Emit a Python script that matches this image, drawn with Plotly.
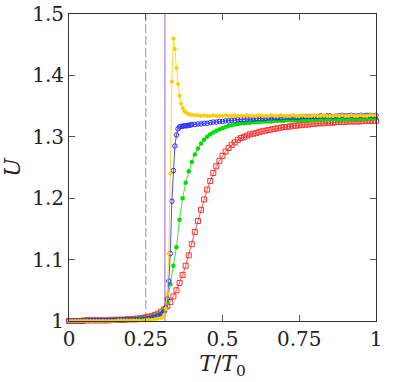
import plotly.graph_objects as go

# ---------------- data ----------------
# Red (open squares)
red_x = [round(i * 0.01, 2) for i in range(0, 101)]
red_y = [1.000, 1.000, 1.000, 1.000, 1.000, 1.001, 1.001, 1.001, 1.001, 1.001, 1.001,
         1.001, 1.001, 1.001, 1.002, 1.002, 1.002, 1.002, 1.002, 1.003, 1.003,
         1.003, 1.004, 1.004, 1.005, 1.006, 1.007, 1.008, 1.010, 1.012, 1.015,
         1.019, 1.024, 1.031, 1.040, 1.050, 1.062, 1.075, 1.090, 1.107, 1.125,
         1.145, 1.163, 1.181, 1.198, 1.214, 1.228, 1.241, 1.252, 1.261, 1.269,
         1.276, 1.282, 1.287, 1.291, 1.295, 1.298, 1.300, 1.302, 1.304, 1.305,
         1.306, 1.308, 1.309, 1.310, 1.311, 1.312, 1.313, 1.314, 1.315, 1.316,
         1.316, 1.317, 1.318, 1.318, 1.319, 1.319, 1.320, 1.320, 1.321, 1.321,
         1.322, 1.322, 1.322, 1.323, 1.323, 1.323, 1.324, 1.324, 1.324, 1.324,
         1.325, 1.325, 1.325, 1.325, 1.325, 1.326, 1.326, 1.326, 1.326, 1.326]

# Green (filled circles)
green_x = [round(i * 0.01, 2) for i in range(0, 101)]
green_y = [1.000, 1.000, 1.000, 1.000, 1.000, 1.001, 1.001, 1.001, 1.001, 1.001, 1.001,
           1.001, 1.001, 1.001, 1.001, 1.002, 1.002, 1.002, 1.002, 1.002, 1.003,
           1.003, 1.003, 1.004, 1.004, 1.005, 1.005, 1.006, 1.008, 1.010, 1.013,
           1.018, 1.030, 1.060, 1.090, 1.120, 1.165, 1.200, 1.225, 1.244, 1.259,
           1.271, 1.281, 1.289, 1.295, 1.300, 1.304, 1.307, 1.310, 1.312, 1.314,
           1.316, 1.318, 1.319, 1.320, 1.321, 1.322, 1.322, 1.323, 1.323, 1.324,
           1.324, 1.324, 1.325, 1.325, 1.325, 1.325, 1.326, 1.326, 1.326, 1.326,
           1.327, 1.327, 1.327, 1.327, 1.327, 1.327, 1.327, 1.327, 1.327, 1.327,
           1.328, 1.328, 1.328, 1.328, 1.328, 1.328, 1.328, 1.328, 1.328, 1.328,
           1.329, 1.329, 1.329, 1.329, 1.329, 1.330, 1.330, 1.330, 1.330, 1.330]

# Blue (open circles)
blue_x = ([round(i * 0.01, 2) for i in range(0, 31)]
          + [0.305, 0.31, 0.315, 0.32, 0.325, 0.33, 0.335, 0.34, 0.345, 0.35,
             0.355, 0.36, 0.365, 0.37, 0.375, 0.38, 0.385, 0.39, 0.395, 0.40]
          + [round(i * 0.01, 2) for i in range(41, 101)])
blue_y = [1.000, 1.000, 1.000, 1.000, 1.000, 1.000, 1.001, 1.001, 1.001, 1.001, 1.001,
          1.001, 1.001, 1.001, 1.001, 1.001, 1.002, 1.002, 1.002, 1.002, 1.002,
          1.002, 1.002, 1.003, 1.003, 1.003, 1.004, 1.005, 1.006, 1.008, 1.010,
          1.012, 1.015, 1.022, 1.036, 1.065, 1.110, 1.195, 1.245, 1.285, 1.303,
          1.313, 1.316, 1.317, 1.317, 1.318, 1.318, 1.318, 1.319, 1.319, 1.320,
          1.320, 1.321, 1.321, 1.322, 1.322, 1.323, 1.324, 1.324, 1.325, 1.325,
          1.326, 1.326, 1.327, 1.327, 1.328, 1.328, 1.328, 1.329, 1.329, 1.329,
          1.330, 1.330, 1.330, 1.330, 1.331, 1.331, 1.331, 1.331, 1.331, 1.332,
          1.332, 1.332, 1.332, 1.332, 1.332, 1.333, 1.333, 1.333, 1.333, 1.333,
          1.333, 1.334, 1.333, 1.334, 1.334, 1.333, 1.334, 1.334, 1.335, 1.334,
          1.334, 1.335, 1.334, 1.334, 1.335, 1.334, 1.335, 1.335, 1.334, 1.335]

# Yellow (small filled circles)
yellow_x = ([round(i * 0.01, 2) for i in range(0, 31)]
            + [0.305, 0.31, 0.315, 0.32, 0.325, 0.33, 0.335, 0.34, 0.345, 0.35,
               0.355, 0.36, 0.365, 0.37, 0.375, 0.38, 0.385, 0.39, 0.395, 0.40]
            + [round(i * 0.01, 2) for i in range(41, 101)])
yellow_y = [1.000, 1.000, 1.000, 1.000, 1.000, 1.000, 1.000, 1.000, 1.000, 1.000, 1.000,
            1.000, 1.000, 1.000, 1.000, 1.000, 1.001, 1.001, 1.001, 1.001, 1.001,
            1.001, 1.001, 1.001, 1.001, 1.002, 1.002, 1.002, 1.003, 1.004, 1.005,
            1.006, 1.010, 1.020, 1.045, 1.110, 1.240, 1.390, 1.460, 1.443, 1.412,
            1.386, 1.367, 1.354, 1.347, 1.342, 1.340, 1.338, 1.337, 1.336, 1.336,
            1.335, 1.335, 1.334, 1.335, 1.334, 1.334, 1.335, 1.334, 1.334, 1.334,
            1.335, 1.334, 1.334, 1.335, 1.334, 1.334, 1.334, 1.335, 1.334, 1.334,
            1.334, 1.335, 1.334, 1.334, 1.334, 1.335, 1.334, 1.334, 1.335, 1.334,
            1.334, 1.334, 1.335, 1.334, 1.334, 1.335, 1.334, 1.334, 1.334, 1.335,
            1.334, 1.334, 1.335, 1.334, 1.334, 1.334, 1.335, 1.334, 1.335, 1.334,
            1.334, 1.335, 1.334, 1.334, 1.335, 1.334, 1.334, 1.335, 1.335, 1.335]

T_dashed = 0.25
T_solid = 0.3125

x_ticks = [0, 0.25, 0.5, 0.75, 1]
x_ticklabels = ["0", "0.25", "0.5", "0.75", "1"]
y_ticks = [1, 1.1, 1.2, 1.3, 1.4, 1.5]
y_ticklabels = ["1", "1.1", "1.2", "1.3", "1.4", "1.5"]

# ---------------- figure ----------------
FONT = "DejaVu Serif"
fig = go.Figure()

fig.add_trace(go.Scatter(x=red_x, y=red_y, mode="lines+markers", cliponaxis=False,
                         line=dict(color="#ff5050", width=1),
                         marker=dict(symbol="square-open", size=5, color="#ff3030",
                                     line=dict(width=1))))
fig.add_trace(go.Scatter(x=green_x, y=green_y, mode="lines+markers", cliponaxis=False,
                         line=dict(color="#40e040", width=1),
                         marker=dict(symbol="circle", size=4.5, color="#00dd00")))
fig.add_trace(go.Scatter(x=blue_x, y=blue_y, mode="lines+markers", cliponaxis=False,
                         line=dict(color="#5050ff", width=1),
                         marker=dict(symbol="circle-open", size=4.5, color="#2a2aff",
                                     line=dict(width=1, color="#2a2aff"))))
fig.add_trace(go.Scatter(x=yellow_x, y=yellow_y, mode="lines+markers", cliponaxis=False,
                         line=dict(color="#ffd830", width=1),
                         marker=dict(symbol="circle", size=4, color="#ffcc00")))

fig.add_vline(x=T_dashed, line=dict(color="#cc66ee", width=1, dash="9px,3px"), layer="below")
fig.add_vline(x=T_solid, line=dict(color="#9a5fd0", width=1), layer="below")

axis_common = dict(showline=True, linecolor="#333333", linewidth=1, mirror="ticks",
                   ticks="inside", ticklen=6, tickcolor="#555555", showgrid=False,
                   zeroline=False, automargin=False,
                   tickfont=dict(family=FONT, size=20, color="#222"))

fig.update_xaxes(range=[0, 1], tickvals=x_ticks, ticktext=x_ticklabels,
                 title=dict(text="<i>T</i>/<i>T</i><sub>0</sub>",
                            font=dict(family=FONT, size=22, color="#222"), standoff=0),
                 **axis_common)
fig.update_yaxes(range=[1, 1.5], tickvals=y_ticks, ticktext=y_ticklabels,
                 title=dict(text="<i>U</i>",
                            font=dict(family=FONT, size=22, color="#222"), standoff=8),
                 **axis_common)

fig.update_layout(width=396, height=382, showlegend=False,
                  margin=dict(l=69, r=20, t=14, b=61),
                  font=dict(family=FONT),
                  paper_bgcolor="white", plot_bgcolor="white")

fig.write_html("out.html")
